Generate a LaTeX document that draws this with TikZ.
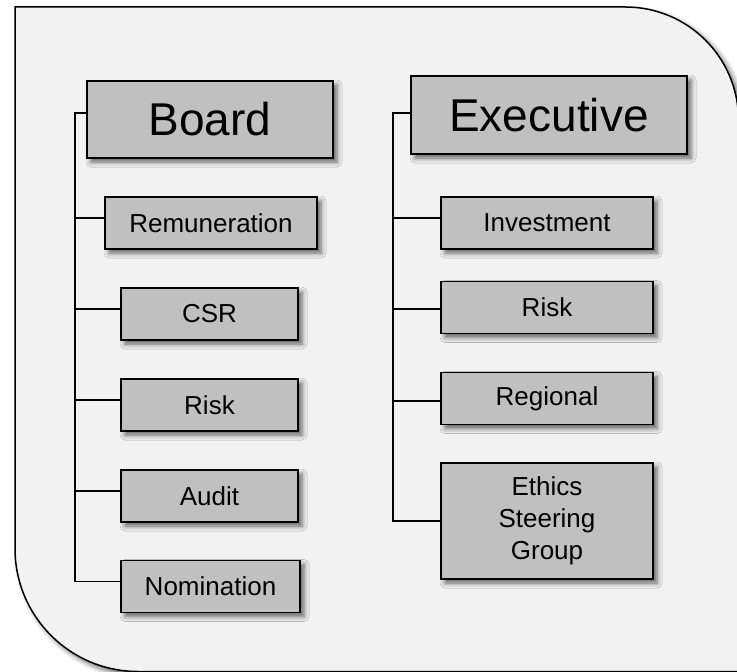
\documentclass[tikz,border=0pt]{standalone}
\usepackage{fontspec}
\setmainfont{Liberation Sans}
\usetikzlibrary{shadows.blur,calc}
\definecolor{panelgray}{HTML}{F2F2F2}
\definecolor{boxgray}{HTML}{C0C0C0}
\begin{document}
\begin{tikzpicture}[x=1bp,y=-1bp,
  softshadow/.style={blur shadow={shadow xshift=4bp, shadow yshift=-4bp,
      shadow blur radius=5bp, shadow opacity=60}},
  panel/.style={fill=panelgray, draw=black, line width=1.5bp, softshadow},
  headbox/.style={draw=black, fill=boxgray, line width=1.6bp, inner sep=0pt,
      font=\fontsize{46bp}{50bp}\selectfont, softshadow},
  subbox/.style={headbox, font=\fontsize{26bp}{32bp}\selectfont, align=center,
      minimum height=52bp},
  link/.style={line width=1.5bp}]
\useasboundingbox (0,0) rectangle (737,672);

% background panel
\path[panel] (15,7) -- (625.5,7) arc[start angle=-90, end angle=0, radius=113]
  -- (738.5,671.5) -- (138,671.5) arc[start angle=90, end angle=180, radius=123]
  -- cycle;

% board side
\node[headbox, minimum width=246bp, minimum height=77bp] (board) at (210,119.5) {Board};
\node[subbox, minimum width=212bp] (rem) at (211,223) {Remuneration};
\node[subbox, minimum width=177bp] (csr) at (209.5,314) {CSR};
\node[subbox, minimum width=177bp] (riskb) at (209.5,405) {Risk};
\node[subbox, minimum width=177bp] (audit) at (209.5,496) {Audit};
\node[subbox, minimum width=179bp] (nom) at (210.5,586.5) {Nomination};

% executive side
\node[headbox, minimum width=276bp, minimum height=78bp] (exec) at (549,115) {Executive};
\node[subbox, minimum width=212bp] (inv) at (547,223) {Investment};
\node[subbox, minimum width=212bp] (riske) at (547,307.5) {Risk};
\node[subbox, minimum width=212bp] (reg) at (547,398.5) {Regional};
\node[subbox, minimum width=212bp, minimum height=116bp] (eth) at (547,521)
  {\raisebox{-4bp}{\begin{tabular}{@{}c@{}}Ethics\\Steering\\Group\end{tabular}}};

% connector spines
\coordinate (lsp) at (75,0);
\coordinate (rsp) at (393,0);
\coordinate (boardc) at ($(board.west)+(0,-6.5)$);
\coordinate (remc) at ($(rem.west)+(0,-5)$);
\coordinate (csrc) at ($(csr.west)+(0,-5)$);
\coordinate (riskbc) at ($(riskb.west)+(0,-5)$);
\coordinate (auditc) at ($(audit.west)+(0,-5)$);
\coordinate (nomc) at ($(nom.west)+(0,-5)$);
\coordinate (execc) at ($(exec.west)+(0,-2)$);
\coordinate (invc) at ($(inv.west)+(0,-5)$);
\coordinate (riskec) at ($(riske.west)+(0,1.5)$);
\coordinate (regc) at ($(reg.west)+(0,2.5)$);
\coordinate (ethc) at (eth.west);

\draw[link] (boardc) -- (lsp |- boardc) -- (lsp |- nomc) -- (nomc);
\foreach \c in {remc,csrc,riskbc,auditc}
  \draw[link] (\c) -- (lsp |- \c);

\draw[link] (execc) -- (rsp |- execc) -- (rsp |- ethc) -- (ethc);
\foreach \c in {invc,riskec,regc}
  \draw[link] (\c) -- (rsp |- \c);
\end{tikzpicture}
\end{document}
